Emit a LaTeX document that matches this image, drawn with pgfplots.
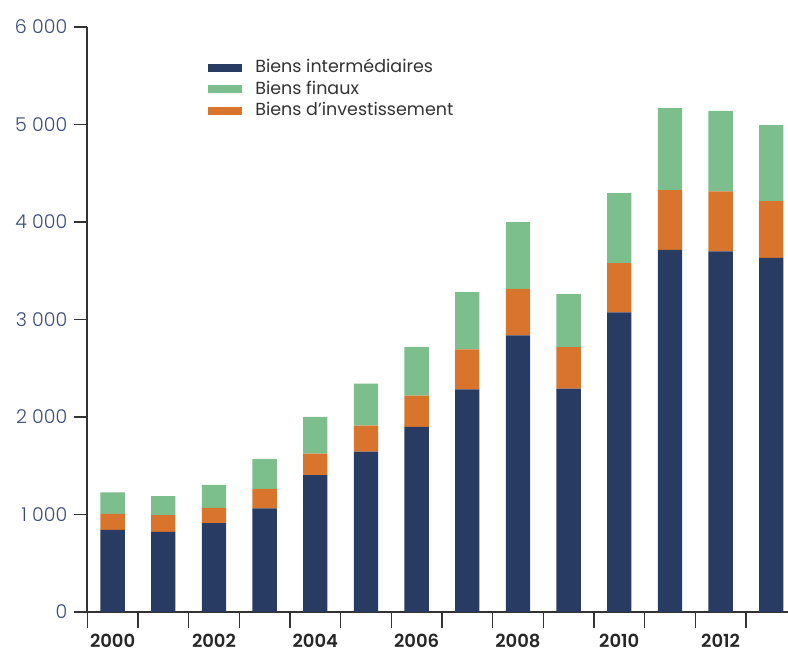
\documentclass[border=0pt]{standalone}
\usepackage{fontspec}
\setmainfont{Poppins}
\newfontfamily\lightfont{Poppins Light}
\newfontfamily\semifont{Poppins SemiBold}
\usepackage{pgfplots}
\usepackage{pgfplotstable}
\pgfplotsset{compat=1.18}
\definecolor{cBlue}{HTML}{283B63}
\definecolor{cOrange}{HTML}{D9742D}
\definecolor{cGreen}{HTML}{7DBF8C}
\definecolor{cTick}{HTML}{3B4B78}
\definecolor{cAxis}{HTML}{333333}
\definecolor{cText}{HTML}{333333}
\pgfplotstableread{
year inter invest final
2000 843 164 219
2001 822 172 195
2002 911 158 236
2003 1062 202 305
2004 1405 219 377
2005 1644 268 431
2006 1900 318 502
2007 2283 410 587
2008 2837 477 684
2009 2290 426 544
2010 3072 505 720
2011 3713 615 841
2012 3698 615 826
2013 3631 583 780
}\data
\begin{document}
\begin{tikzpicture}
\useasboundingbox (-43.65pt,-20.5pt) rectangle (350.35pt,306pt);
\begin{axis}[
  scale only axis, width=350.35pt, height=292.5pt,
  xmin=1999.5, xmax=2013.33, ymin=0, ymax=6000,
  ybar stacked, bar width=12.15pt,
  axis lines*=left,
  axis line style={cAxis, line width=1pt},
  tick align=outside,
  major tick length=6.5pt,
  ytick={0,1000,...,6000},
  ytick style={cAxis, line width=0.6pt},
  yticklabel style={font=\lightfont\fontsize{9.5}{11}\selectfont, color=cTick},
  /pgf/number format/assume math mode=true,
  /pgf/number format/1000 sep={\ },
  xtick={2000,2002,...,2012},
  xticklabels={2000,2002,2004,2006,2008,2010,2012},
  xtick style={draw=none},
  xticklabel style={font=\semifont\fontsize{9}{11}\selectfont, color=black!85, yshift=-4.5pt, text depth=0pt, inner ysep=0pt},
  extra x ticks={1999.5,2000.5,...,2012.5},
  extra x tick labels={},
  extra x tick style={major tick length=8pt, xtick style={draw=cAxis, line width=0.7pt}},
  legend style={at={(rel axis cs:0.171,0.9496)}, anchor=north west, draw=none, fill=none,
    inner sep=0pt, font=\fontsize{8.75}{10}\selectfont, text=cText,
    row sep=0pt, nodes={inner xsep=2pt, inner ysep=0.875pt, text height=7pt, text depth=2pt},
    /tikz/every odd column/.append style={column sep=5pt}},
  legend cell align=left,
  clip=false,
]
\addplot+[fill=cBlue, draw=none, forget plot] table[x=year,y=inter]{\data};
\addplot+[fill=cOrange, draw=none, forget plot] table[x=year,y=invest]{\data};
\addplot+[fill=cGreen, draw=none, forget plot] table[x=year,y=final]{\data};
\addlegendimage{no markers, cBlue, legend image code/.code={\fill[cBlue] (0pt,-1.75pt) rectangle (16.5pt,1.75pt);}}
\addlegendentry{Biens intermédiaires}
\addlegendimage{no markers, cGreen, legend image code/.code={\fill[cGreen] (0pt,-1.75pt) rectangle (16.5pt,1.75pt);}}
\addlegendentry{Biens finaux}
\addlegendimage{no markers, cOrange, legend image code/.code={\fill[cOrange] (0pt,-1.75pt) rectangle (16.5pt,1.75pt);}}
\addlegendentry{Biens d’investissement}
\end{axis}
\end{tikzpicture}
\end{document}
